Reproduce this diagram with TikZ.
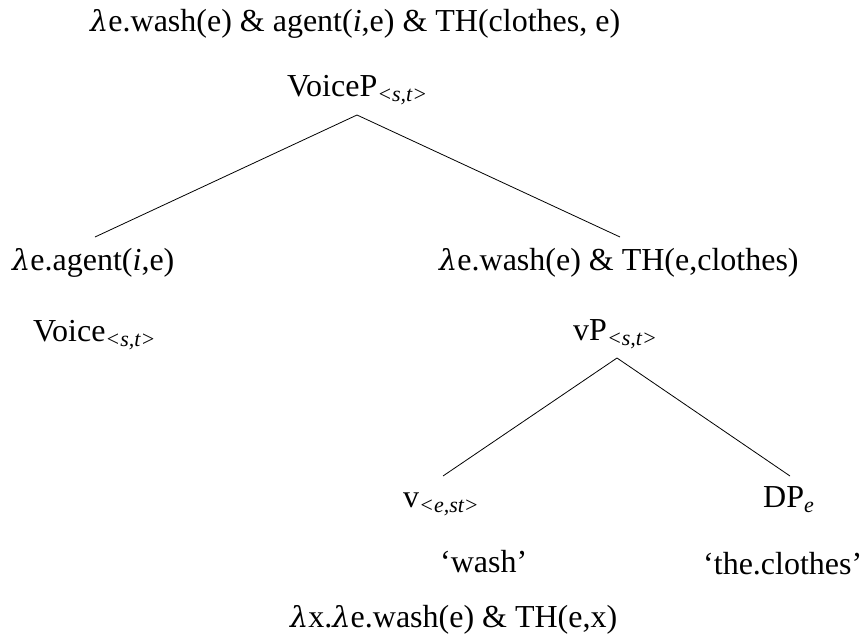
\documentclass[tikz,border=0pt]{standalone}
\usepackage{fontspec}
\setmainfont{Liberation Serif}
\newfontfamily\lamfont[Scale=0.9]{DejaVu Serif}
\begin{document}
\begin{tikzpicture}[x=1pt,y=-1pt,
  lbl/.style={inner sep=0pt,anchor=base west,font=\fontsize{32}{38}\selectfont},
  edge/.style={line width=0.8pt}]
\useasboundingbox (0,0) rectangle (868,637);
\newcommand\lam{{\lamfont\itshape λ}}
\newcommand\sub[1]{\raisebox{-5pt}{\fontsize{22}{26}\selectfont\itshape #1}}
\node[lbl] (top) at (90,31) {\lam e.wash(e) \& agent(\textit{i},e) \& TH(clothes, e)};
\node[lbl] (voicep) at (287,96) {VoiceP\sub{<s,t>}};
\node[lbl] (agent) at (12,270) {\lam e.agent(\textit{i},e)};
\node[lbl] (voice) at (33,341) {Voice\sub{<s,t>}};
\node[lbl] (washth) at (439,270) {\lam e.wash(e) \& TH(e,clothes)};
\node[lbl] (vp) at (573,340) {vP\sub{<s,t>}};
\node[lbl] (v) at (403,507) {v\sub{<e,st>}};
\node[lbl] (dp) at (763,507) {DP\sub{e}};
\node[lbl] (qwash) at (440,572) {‘wash’};
\node[lbl] (qclothes) at (703,574) {‘the.clothes’};
\node[lbl] (bottom) at (290,627) {\lam x.\lam e.wash(e) \& TH(e,x)};
\coordinate (a1) at (357,115);
\coordinate (l1) at (95,237);
\coordinate (r1) at (620,237);
\coordinate (a2) at (617,358);
\coordinate (l2) at (443,476);
\coordinate (r2) at (790,476);
\draw[edge] (l1) -- (a1) -- (r1);
\draw[edge] (l2) -- (a2) -- (r2);
\end{tikzpicture}
\end{document}
